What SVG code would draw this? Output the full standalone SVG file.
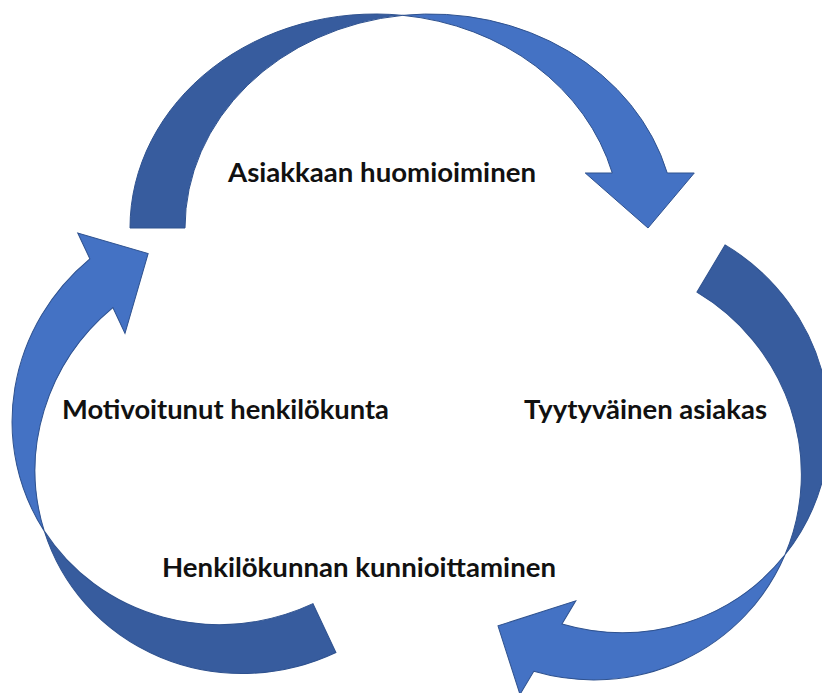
<svg xmlns="http://www.w3.org/2000/svg" width="822" height="693" viewBox="0 0 822 693">
  <style>
    .front { fill: #4472C4; stroke: #2F528F; stroke-width: 1; stroke-linejoin: miter; }
    .back { fill: #375C9E; stroke: #2F528F; stroke-width: 1; stroke-linejoin: miter; }
    .lbl { font-family: "Lato", "Liberation Sans", sans-serif; font-weight: bold; font-size: 27.5px; fill: #111111; }
  </style>
  <rect width="822" height="693" fill="#FFFFFF"/>
  <g id="connectors">
    <g id="arrow-top">
      <path class="back" d="M130,228 A245.25,214 0 0 1 402.75,15.35 A245.25,214 0 0 0 185,228 Z"/>
      <path class="front" d="M402.75,15.35 A245.25,214 0 0 1 667.26,173 L694.26,173 L648,228 L585.26,173 L612.26,173 A245.25,214 0 0 0 402.75,15.35 Z"/>
    </g>
    <g id="arrow-right" transform="translate(604.5,447.2) rotate(30.8)">
      <path class="back" d="M210.14,0 A212,208 0 0 0 0,-235.5 L0,-180.5 A212,208 0 0 1 210.14,0 Z"/>
      <path class="front" d="M210.14,0 A212,208 0 0 1 54,228.64 L54,255.64 L0,208 L54,146.64 L54,173.64 A212,208 0 0 0 210.14,0 Z"/>
    </g>
    <g id="arrow-left" transform="translate(236.3,440.8) rotate(-25.2)">
      <path class="back" d="M-212.17,0 A214,207 0 0 0 0,234 L0,180 A214,207 0 0 1 -212.17,0 Z"/>
      <path class="front" d="M-212.17,0 A214,207 0 0 1 -55,-227.05 L-55,-255.55 L0,-207 L-55,-144.55 L-55,-173.05 A214,207 0 0 0 -212.17,0 Z"/>
    </g>
  </g>
  <g id="node-asiakkaan">
    <text class="lbl" x="228" y="182" textLength="308" lengthAdjust="spacingAndGlyphs">Asiakkaan huomioiminen</text>
  </g>
  <g id="node-tyytyvainen">
    <text class="lbl" x="524" y="419" textLength="243" lengthAdjust="spacingAndGlyphs">Tyytyväinen asiakas</text>
  </g>
  <g id="node-henkilokunnan">
    <text class="lbl" x="162" y="577" textLength="394" lengthAdjust="spacingAndGlyphs">Henkilökunnan kunnioittaminen</text>
  </g>
  <g id="node-motivoitunut">
    <text class="lbl" x="62" y="419" textLength="327" lengthAdjust="spacingAndGlyphs">Motivoitunut henkilökunta</text>
  </g>
</svg>
